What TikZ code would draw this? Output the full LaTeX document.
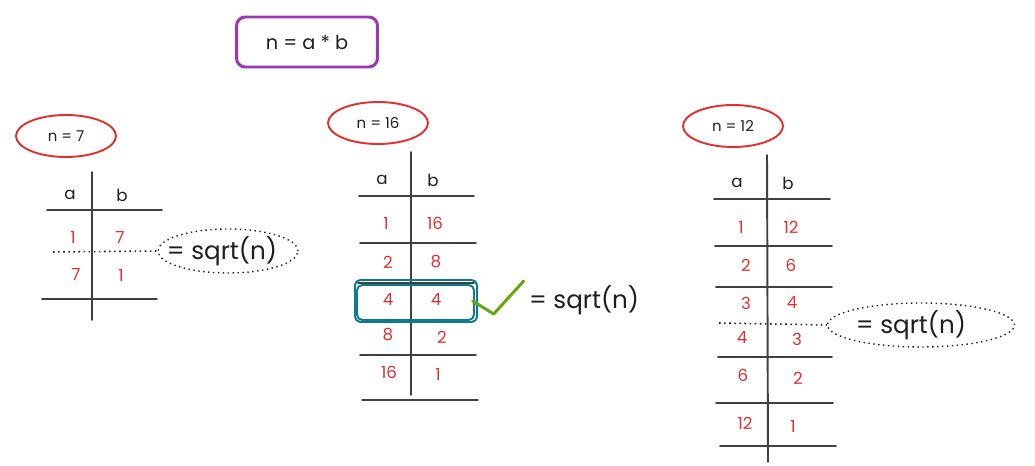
\documentclass[tikz,border=0pt]{standalone}
\usepackage{fontspec}
\setmainfont{Poppins}
\usetikzlibrary{positioning, shapes.geometric}
\definecolor{skInk}{HTML}{1E1E1E}
\definecolor{skRed}{HTML}{E03131}
\definecolor{skTeal}{HTML}{0C7A90}
\definecolor{skGreen}{HTML}{66A80F}
\definecolor{skPurple}{HTML}{9C36B5}
\tikzset{
  cell/.style={font=\fontsize{9.5}{10}\selectfont, text=skRed, inner sep=1pt},
  head/.style={cell, text=skInk},
  rule/.style={line width=1.1pt, draw=skInk!85, line cap=round},
  tag/.style={
    ellipse, draw=skRed, line width=1.1pt, inner sep=0pt,
    minimum width=2cm, minimum height=0.84cm,
    font=\fontsize{8.5}{9}\selectfont, text=skInk
  },
  root/.style={
    ellipse, draw=skInk, dotted, line width=0.8pt, inner sep=0pt,
    minimum height=0.88cm
  },
  eqn/.style={font=\fontsize{14}{15}\selectfont, text=skInk, inner sep=1pt},
  goal/.style={
    draw=skPurple, line width=1.7pt, rounded corners=5pt,
    minimum width=2.82cm, minimum height=1cm,
    font=\fontsize{11}{12}\selectfont, text=skInk
  },
  pick/.style={draw=skTeal, line width=1.1pt, rounded corners=3pt},
  tick/.style={draw=skGreen, line width=1.7pt, line cap=round, line join=round},
  dotline/.style={draw=skInk, dotted, line width=0.9pt},
}
\begin{document}
\begin{tikzpicture}[x=0.02cm, y=-0.02cm]
  \useasboundingbox (0,0) rectangle (1035,466);

  \node[goal] (top) at (307,42) {n = a * b};

  % n = 7
  \node[tag] (t7) at (66,136) {n = 7};
  \node[head] (a7) at (70,195) {a};
  \node[head] (b7) at (122,195) {b};
  \draw[rule] (92,172) -- (92,320);
  \draw[rule] (47,210) -- (162,210);
  \draw[rule] (42,299) -- (157,299);
  \node[cell] (a7r1) at (73,237) {1};
  \node[cell] (b7r1) at (120,237) {7};
  \node[cell] (a7r2) at (76,274) {7};
  \node[cell] (b7r2) at (121,275) {1};
  \node[root, minimum width=2.8cm] (r7) at (228,251) {};
  \node[eqn] (s7) at (222,251) {= sqrt(n)};
  \coordinate (d7) at (53,252);
  \draw[dotline] (d7) -- (r7.west);

  % n = 16
  \node[tag] (t16) at (378,123) {n = 16};
  \node[head] (a16) at (382,180) {a};
  \node[head] (b16) at (433,180) {b};
  \draw[rule] (411,152) -- (411,395);
  \draw[rule] (359,196) -- (474,196);
  \draw[rule] (360,243) -- (476,243);
  \draw[rule] (358,283) -- (474,283);
  \draw[rule] (360,355) -- (476,355);
  \draw[rule] (362,400) -- (478,400);
  \node[cell] (a16r1) at (386,223) {1};
  \node[cell] (b16r1) at (435,223) {16};
  \node[cell] (a16r2) at (388,262) {2};
  \node[cell] (b16r2) at (436,262) {8};
  \node[cell] (a16r3) at (388,300) {4};
  \node[cell] (b16r3) at (436,300) {4};
  \node[cell] (a16r4) at (388,335) {8};
  \node[cell] (b16r4) at (442,337) {2};
  \node[cell] (a16r5) at (389,372) {16};
  \node[cell] (b16r5) at (438,374) {1};
  \node[pick, minimum width=2.44cm, minimum height=0.84cm] (hl) at (416,301) {};
  \draw[pick] (357,285) rectangle (474,320);
  \node[eqn, anchor=west] (s16) at (527,300) {= sqrt(n)};
  \draw[tick] ([xshift=-3pt]hl.east) -- ++(21,13) -- ++(30,-33);

  % n = 12
  \node[tag] (t12) at (733,126) {n = 12};
  \node[head] (a12) at (737,183) {a};
  \node[head] (b12) at (788,183) {b};
  \draw[rule] (767,155) -- (768,462);
  \draw[rule] (714,199) -- (830,199);
  \draw[rule] (715,246) -- (832,246);
  \draw[rule] (716,287) -- (832,287);
  \draw[rule] (718,357) -- (832,357);
  \draw[rule] (716,403) -- (833,403);
  \draw[rule] (720,446) -- (836,446);
  \node[cell] (a12r1) at (741,227) {1};
  \node[cell] (b12r1) at (791,227) {12};
  \node[cell] (a12r2) at (746,265) {2};
  \node[cell] (b12r2) at (791,265) {6};
  \node[cell] (a12r3) at (746,303) {3};
  \node[cell] (b12r3) at (792,303) {4};
  \node[cell] (a12r4) at (742,338) {4};
  \node[cell] (b12r4) at (797,339) {3};
  \node[cell] (a12r5) at (743,375) {6};
  \node[cell] (b12r5) at (798,378) {2};
  \node[cell] (a12r6) at (745,423) {12};
  \node[cell] (b12r6) at (793,426) {1};
  \node[root, minimum width=3.74cm] (r12) at (921,325) {};
  \node[eqn] (s12) at (911,325) {= sqrt(n)};
  \coordinate (d12) at (719,323);
  \draw[dotline] (d12) -- (r12.west);
\end{tikzpicture}
\end{document}
